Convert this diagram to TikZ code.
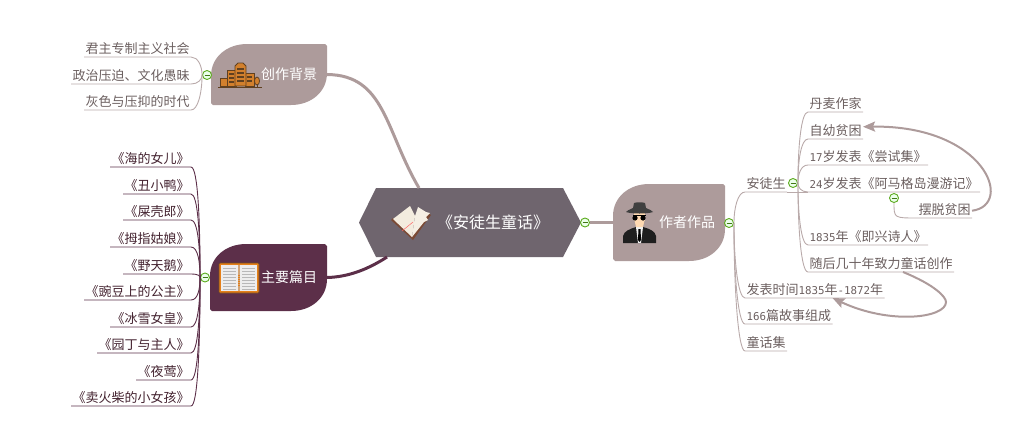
\documentclass[tikz,border=0pt]{standalone}
\usepackage{fontspec}
\setmainfont{Noto Sans CJK SC}
\newfontfamily\digitfont{DejaVu Sans Mono}
\usetikzlibrary{calc, arrows.meta}
\definecolor{hubgray}{HTML}{6F656E}
\definecolor{taupe}{HTML}{AD9B9B}
\definecolor{plum}{HTML}{5C2F49}
\definecolor{leafgray}{HTML}{6B5F5F}
\definecolor{leafplum}{HTML}{43222F}
\definecolor{foldgreen}{HTML}{5CAB1E}
\definecolor{cream}{HTML}{F3ECDF}
\definecolor{cover}{HTML}{7A4A35}
\newcommand{\dgt}[1]{{\digitfont\fontsize{10.8}{12}\selectfont #1}}
\newcommand{\blobfill}[5]{\fill[#5] ({#1},{#2+32}) .. controls ({#1},{#2+13}) and ({#1+16},{#2}) .. ({#1+36},{#2}) -- ({#3-2},{#2}) -- ({#3},{#2+2}) -- ({#3},{#4-32}) .. controls ({#3},{#4-13}) and ({#3-16},{#4}) .. ({#3-36},{#4}) -- ({#1+2},{#4}) -- ({#1},{#4-2}) -- cycle;}
\tikzset{
	leaf/.style={font=\fontsize{13}{15}\selectfont, inner xsep=1.5pt, inner ysep=0.5pt, text height=10pt, text depth=3.5pt, outer sep=0pt},
	grayleaf/.style={leaf, text=leafgray},
	plumleaf/.style={leaf, text=leafplum},
	grayline/.style={draw=taupe!85!white, line width=0.9pt},
	plumline/.style={draw=plum, line width=0.9pt},
	mainlink/.style={line width=3pt},
	relation/.style={draw=taupe, line width=2pt, -{Stealth[length=12pt, width=10pt, inset=2pt]}},
	branchbox/.style={text=white, font=\fontsize{14}{16}\selectfont, align=right, inner xsep=10pt, inner ysep=0pt, outer sep=0pt},
	foldmark/.style={circle, draw=foldgreen, fill=green!8, line width=0.9pt, minimum size=9pt, inner sep=0pt, path picture={\draw[foldgreen!70!black, line width=0.8pt] ([xshift=2pt]path picture bounding box.west) -- ([xshift=-2pt]path picture bounding box.east);}}
}
\begin{document}
\begin{tikzpicture}[x=1pt, y=-1pt]
		\useasboundingbox (0,0) rectangle (1024,445);
		\fill[hubgray] (359,222.5) -- (376,188) -- (563,188) -- (581,222.5) -- (563,257) -- (376,257) -- cycle;
		\node[minimum width=222pt, minimum height=69pt, inner sep=0pt, outer sep=0pt, text=white, font=\fontsize{16}{18}\selectfont] (hub) at (470,222.5) {\hspace{46pt}《安徒生童话》};
		\coordinate (hubtop) at (419,188);
		\coordinate (hubbottom) at (387,257);

		\blobfill{211}{44}{327}{105}{taupe}
		\node[branchbox, text width=96pt, minimum height=61pt] (background) at (269,74.5) {创作背景};
		\blobfill{210}{244}{327}{311}{plum}
		\node[branchbox, text width=97pt, minimum height=67pt] (works) at (268.5,277.5) {主要篇目};
		\blobfill{613}{184}{725}{261}{taupe}
		\node[branchbox, text width=92pt, minimum height=77pt] (author) at (669,222.5) {作者作品};

		\node[foldmark] (hubfold) at (585,222.5) {};
		\node[foldmark] (bgfold) at (207,75) {};
		\node[foldmark] (worksfold) at (205,277.5) {};
		\node[foldmark] (authorfold) at (729,223) {};
		\node[foldmark] (andersenfold) at (793,183) {};
		\node[foldmark] (poet24fold) at (894,198) {};

		\draw[mainlink, taupe] (background.east) .. controls (385,75) and (385,130) .. (hubtop);
		\draw[mainlink, plum] (works.east) .. controls (350,277) and (370,268) .. (hubbottom);
		\draw[mainlink, taupe] (hubfold.east) -- (author.west);

		\foreach \nm/\yl/\txt in {monarchy/57/君主专制主义社会, oppress/84/政治压迫、文化愚昧, gloomy/110/灰色与压抑的时代}{
			\node[grayleaf, anchor=south east] (\nm) at (191,\yl) {\txt};
			\draw[grayline] (\nm.south west) -- (\nm.south east) .. controls ([xshift=7pt]\nm.south east) and ($(bgfold.west |- \nm.south)!0.5!(bgfold.west)$) .. (bgfold.west);
		}
		\foreach \nm/\yl/\txt in {daughter/167/《海的女儿》, duckling/194/《丑小鸭》, beetle/220/《屎壳郎》, thumbelina/247/《拇指姑娘》, swans/274/《野天鹅》, princess/300/《豌豆上的公主》, snowqueen/327/《冰雪女皇》, gardener/353/《园丁与主人》, nightingale/380/《夜莺》, matchgirl/406/《卖火柴的小女孩》}{
			\node[plumleaf, anchor=south east] (\nm) at (191,\yl) {\txt};
			\draw[plumline] (\nm.south west) -- (\nm.south east) .. controls ([xshift=7pt]\nm.south east) and ($(worksfold.west |- \nm.south)!0.5!(worksfold.west)$) .. (worksfold.west);
		}
		\foreach \nm/\yl/\txt in {andersen/192/安徒生, period/298/发表时间\dgt{1835}年\dgt{-1872}年, count/324/\dgt{166}篇故事组成, collection/351/童话集}{
			\node[grayleaf, anchor=south west] (\nm) at (745,\yl) {\txt};
			\draw[grayline] (\nm.south east) -- (\nm.south west) .. controls ([xshift=-7pt]\nm.south west) and ($(authorfold.east |- \nm.south)!0.5!(authorfold.east)$) .. (authorfold.east);
		}
		\foreach \nm/\yl/\txt in {danish/112/丹麦作家, childhood/139/自幼贫困, poet17/165/\dgt{17}岁发表《尝试集》, poet24/192/\dgt{24}岁发表《阿马格岛漫游记》, improv/245/\dgt{1835}年《即兴诗人》, fairy/272/随后几十年致力童话创作}{
			\node[grayleaf, anchor=south west] (\nm) at (808,\yl) {\txt};
			\draw[grayline] (\nm.south east) -- (\nm.south west) .. controls ([xshift=-7pt]\nm.south west) and ($(andersenfold.east |- \nm.south)!0.5!(andersenfold.east)$) .. (andersenfold.east);
		}
		\draw[grayline] (andersen.south east) -- (poet24.south west);
		\node[grayleaf, anchor=south west] (escape) at (917,218) {摆脱贫困};
		\draw[grayline] (escape.south east) -- (escape.south west) .. controls (poet24fold.south |- escape.south west) .. (poet24fold.south);

		\draw[relation] (escape.east) .. controls (1015,205) and (985,125) .. ([yshift=5pt]childhood.east);
		\coordinate (fairyout) at (903,272);
		\draw[relation] (fairyout) .. controls (935,285) and (946,297) .. (946,302) .. controls (946,318) and (890,325) .. (period.south -| count.east);

		% hub book
		\fill[cover] (391,220) -- (413,240) -- (431,215) -- (428,213) -- (412,235) -- (393,218) -- cycle;
		\fill[cream] (393,219) -- (410,206) -- (415,216) -- (412,237) -- cycle;
		\fill[cream!85!white] (415,216) -- (418,207) -- (426,212) -- (430,213) -- (426,217) -- (428,220) -- (424,222) -- (412,237) -- cycle;
		\draw[red!60!white, line width=0.5pt] (402,231) -- (413,222);

		% city blocks
		\begin{scope}[draw=brown!50!black, line width=0.8pt]
			\filldraw[fill=brown!70!orange] (220,86) rectangle (229,78);
			\filldraw[fill=brown!70!orange] (227,86) rectangle (236,70);
			\filldraw[fill=brown!70!orange] (245,86) rectangle (254,73);
			\filldraw[fill=brown!70!orange] (235,86) -- (235,66) -- (238,63) -- (243,63) -- (246,66) -- (246,86) -- cycle;
			\filldraw[fill=brown!70!orange] (257,81) circle[x radius=2.5, y radius=4];
			\draw (257,84) -- (257,87);
			\draw (218,87) -- (262,87);
		\end{scope}
		\foreach \wy in {68,72,76,80}
			\fill[brown!50!black] (237,\wy) rectangle (244,\wy+2);
		\foreach \wy in {73,77,81}
			\fill[brown!50!black] (229,\wy) rectangle (234,\wy+2);
		\foreach \wy in {76,80}
			\fill[brown!50!black] (247,\wy) rectangle (252,\wy+2);

		% notebook
		\filldraw[draw=brown!60!black, fill=orange!60!brown, line width=0.7pt, rounded corners=1pt] (219,263) rectangle (259,293);
		\fill[black!7!white] (221,265) rectangle (238,291);
		\fill[black!7!white] (240,265) rectangle (257,291);
		\foreach \wy in {268,271,...,289}{
			\draw[black!28!white, line width=0.7pt] (223,\wy) -- (236,\wy);
			\draw[black!28!white, line width=0.7pt] (242,\wy) -- (255,\wy);
		}
		\draw[brown!70!white, line width=2pt, dash pattern=on 1.5pt off 0.6pt] (239,265) -- (239,291);

		% spy
		\fill[black!88!white] (623,243) -- (623,236) .. controls (624,231) and (630,229) .. (636,227) -- (643,227) .. controls (650,229) and (655,231) .. (656,236) -- (656,243) -- cycle;
		\fill[black!6!white] (636,227) -- (643,227) -- (641,243) -- (638,243) -- cycle;
		\fill[black] (638.5,229) -- (640.5,229) -- (641,240) -- (639.5,242) -- (638,240) -- cycle;
		\fill[orange!30!white] (634,212) rectangle (645,221);
		\fill[orange!30!white] (634,218) -- (645,218) -- (643,227) -- (636,227) -- cycle;
		\fill[black!75!white] (626,212) .. controls (631,214) and (648,214) .. (653,212) .. controls (650,209) and (647,209) .. (646,208) -- (645,203) .. controls (642,202) and (637,202) .. (634,203) -- (633,208) .. controls (632,209) and (629,209) .. (626,212) -- cycle;
		\fill[black] (633,215) rectangle (646,216);
		\fill[black] (635,218) circle (2.6);
		\fill[black] (643,218) circle (2.6);
\end{tikzpicture}
\end{document}
